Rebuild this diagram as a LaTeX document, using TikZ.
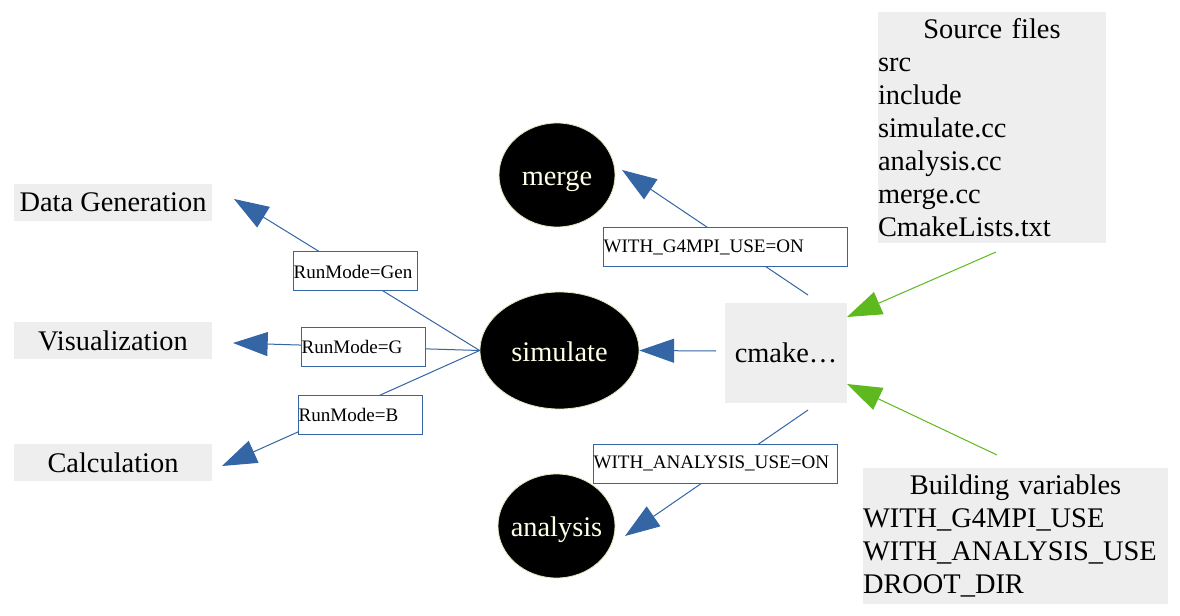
\documentclass[tikz,border=0pt]{standalone}
\usepackage{fontspec}
\setmainfont{Liberation Serif}
\usetikzlibrary{shapes.geometric,arrows.meta}
\definecolor{lblue}{HTML}{3465A4}
\definecolor{lgreen}{HTML}{5EB91E}
\definecolor{lgray}{HTML}{EEEEEE}
\definecolor{cream}{HTML}{FFFFE6}
\definecolor{creamline}{HTML}{E8E4C0}
\newcommand\bigfnt{\fontsize{21.3}{24.75}\selectfont}
\newcommand\smallfnt{\fontsize{14.3}{17}\selectfont}
\begin{document}
\begin{tikzpicture}[x=0.75pt,y=-0.75pt,
  graybox/.style={fill=lgray,inner sep=0pt,font=\bigfnt},
  blob/.style={ellipse,fill=black,draw=creamline,line width=0.6pt,text=cream,inner sep=0pt,text height=16pt,text depth=0pt,font=\bigfnt},
  lbl/.style={draw=lblue,fill=white,line width=0.75pt,inner ysep=0pt,inner xsep=0.4pt,align=left,minimum height=29.25pt,font=\smallfnt},
  barrow/.style={draw=lblue,line width=0.75pt,-{Triangle[length=26pt,width=18pt]}},
  garrow/.style={draw=lgreen,line width=0.75pt,-{Triangle[length=26pt,width=18pt]}}]
\useasboundingbox (0,0) rectangle (1180,616);
\fill[white] (0,0) rectangle (1180,616);
% gray boxes
\node[graybox,minimum width=148.5pt,minimum height=27.75pt] (datagen) at (113,202.5) {Data Generation};
\node[graybox,minimum width=148.5pt,minimum height=27.75pt] (vis) at (113,340.5) {Visualization};
\node[graybox,minimum width=148.5pt,minimum height=27.75pt] (calc) at (113,462.5) {Calculation};
\node[graybox,minimum width=91.5pt,minimum height=75pt] (cmake) at (786,353) {cmake…};
\node[graybox,text width=171pt,minimum height=173.25pt,align=left] (src) at (992,127.5)
  {\makebox[171pt][c]{Source files}\\src\\include\\simulate.cc\\analysis.cc\\merge.cc\\CmakeLists.txt};
\node[graybox,text width=228.75pt,minimum height=102pt,align=left] (bld) at (1015.5,535.5)
  {\makebox[228.75pt][c]{Building variables}\\WITH\_G4MPI\_USE\\WITH\_ANALYSIS\_USE\\DROOT\_DIR};
% ellipses
\node[blob,minimum width=87pt,minimum height=78pt] (merge) at (557,175) {\makebox[0pt][c]{merge}};
\node[blob,minimum width=119.25pt,minimum height=87.75pt] (sim) at (559.5,350.5) {\makebox[0pt][c]{simulate}};
\node[blob,minimum width=87.75pt,minimum height=78pt] (ana) at (556.5,526) {\makebox[0pt][c]{analysis}};
% connector end points
\coordinate (dgT) at (234,199);
\coordinate (visT) at (233,343);
\coordinate (calT) at (222,466);
\coordinate (mergeT) at (622,170);
\coordinate (anaT) at (625,536);
\coordinate (cmW) at (716,351);
\coordinate (cmN) at (808,295);
\coordinate (cmS) at (808,410);
\coordinate (cmNE) at (847,317);
\coordinate (cmSE) at (847,384);
\coordinate (srcS) at (996,252);
\coordinate (bldN) at (997,455);
% connectors
\draw[barrow] (sim.west) -- (dgT);
\draw[barrow] (sim.west) -- (visT);
\draw[barrow] (sim.west) -- (calT);
\draw[barrow] (cmW) -- (sim.east);
\draw[barrow] (cmN) -- (mergeT);
\draw[barrow] (cmS) -- (anaT);
\draw[garrow] (srcS) -- (cmNE);
\draw[garrow] (bldN) -- (cmSE);
% labels
\node[lbl,text width=92.2pt] (lgen) at (355,271.5) {RunMode=Gen};
\node[lbl,text width=92.2pt] (lg) at (363,346.5) {RunMode=G};
\node[lbl,text width=92.2pt] (lb) at (360,415) {RunMode=B};
\node[lbl,text width=182.2pt] (lmpi) at (725,247.5) {WITH\_G4MPI\_USE=ON};
\node[lbl,text width=182.2pt] (lana) at (715,463.5) {WITH\_ANALYSIS\_USE=ON};
\end{tikzpicture}
\end{document}
